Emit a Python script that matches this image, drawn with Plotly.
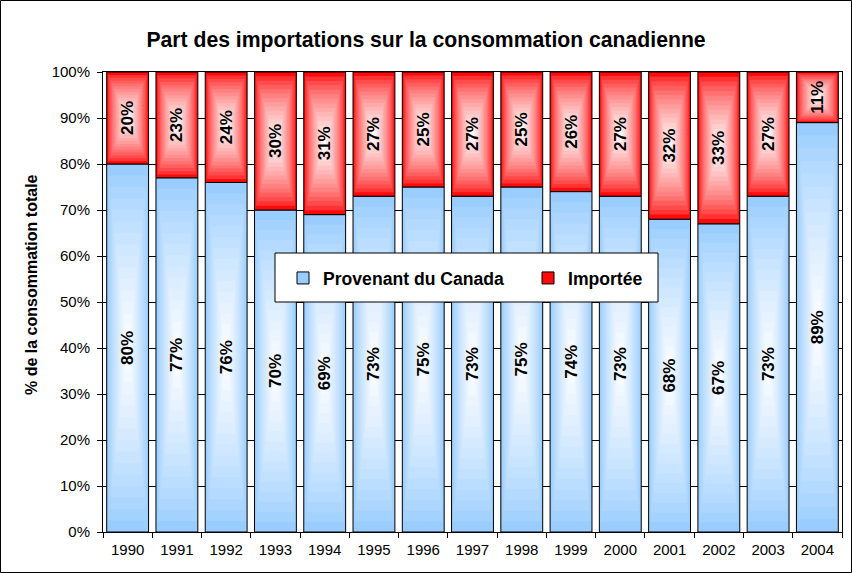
import plotly.graph_objects as go

# data
years = ['1990', '1991', '1992', '1993', '1994', '1995', '1996', '1997',
         '1998', '1999', '2000', '2001', '2002', '2003', '2004']
canada = [80, 77, 76, 70, 69, 73, 75, 73, 75, 74, 73, 68, 67, 73, 89]
importee = [20, 23, 24, 30, 31, 27, 25, 27, 25, 26, 27, 32, 33, 27, 11]

FONT = 'Liberation Sans, Arial, sans-serif'
W = 0.85      # bar width (category units)
N = 16        # gradient layers

# plot area in pixels
L, R, T, B = 103, 10, 72, 41
FW, FH = 852, 573
PW, PH = FW - L - R, FH - T - B


def lerp(c1, c2, t):
    return 'rgb(%d,%d,%d)' % tuple(round(a + (b - a) * t) for a, b in zip(c1, c2))


fig = go.Figure()

series = [
    ('Provenant du Canada', canada, [0] * len(canada), (153, 204, 255), (252, 253, 255), 0.8),
    ('Importée', importee, canada, (255, 10, 10), (255, 250, 250), 0.65),
]

# concentric rectangles -> "from center" gradient fill like the Excel original
for name, vals, base, edge, centre, p in series:
    for i in range(N):
        t = i / N
        fig.add_trace(go.Bar(
            x=years,
            y=[v * (1 - t) for v in vals],
            base=[b + v * t / 2 for b, v in zip(base, vals)],
            width=W * (1 - t),
            marker=dict(color=lerp(edge, centre, (i / (N - 1)) ** p),
                        line=dict(color='black', width=1 if i == 0 else 0)),
            name=name,
            legendgroup=name,
            showlegend=(i == 0),
            hoverinfo='skip',
        ))

# labels
for name, vals, base, edge, centre, p in series:
    fig.add_trace(go.Bar(
        x=years, y=vals, base=base, width=W,
        marker=dict(color='rgba(0,0,0,0)', line=dict(width=0)),
        text=['%d%%' % v for v in vals],
        textposition='inside', insidetextanchor='middle', textangle=-90,
        constraintext='none',
        textfont=dict(family=FONT, size=17, color='black', weight='bold'),
        showlegend=False, hoverinfo='skip',
    ))

fig.update_layout(
    width=FW, height=FH,
    margin=dict(l=L, r=R, t=T, b=B),
    barmode='overlay',
    paper_bgcolor='white', plot_bgcolor='white',
    font=dict(family=FONT, color='black'),
    title=dict(text='Part des importations sur la consommation canadienne',
               x=0.5, xref='container', xanchor='center',
               y=1 - 40 / FH, yanchor='middle',
               font=dict(family=FONT, size=21.2, color='black', weight='bold')),
    legend=dict(orientation='h', x=(528 - L) / PW, xanchor='center',
                y=(FH - B - 278) / PH, yanchor='middle',
                bgcolor='rgba(0,0,0,0)', borderwidth=0,
                font=dict(family=FONT, size=17.6, color='black', weight='bold'),
                entrywidth=200, itemclick=False),
    showlegend=True,
)

fig.update_xaxes(type='category', showgrid=False, ticks='outside', tickson='boundaries',
                 ticklen=5, tickcolor='black', showline=True, linecolor='black',
                 linewidth=1, mirror=True, ticklabelstandoff=4,
                 tickfont=dict(family=FONT, size=15, color='black'))
fig.update_yaxes(range=[0, 100], dtick=10, ticksuffix='%', showgrid=True,
                 gridcolor='black', gridwidth=1, ticks='outside', ticklen=5,
                 tickcolor='black', showline=True, linecolor='black', linewidth=1,
                 mirror=True, zeroline=False, ticklabelstandoff=4,
                 tickfont=dict(family=FONT, size=15, color='black'))

# y-axis title
fig.add_annotation(text='% de la consommation totale', textangle=-90,
                   xref='paper', yref='paper', xanchor='center', yanchor='middle',
                   x=(31 - L) / PW, y=(FH - B - 285) / PH,
                   showarrow=False,
                   font=dict(family=FONT, size=16, color='black', weight='bold'))

# legend box
fig.add_shape(type='rect', xref='paper', yref='paper', layer='above',
              x0=(275 - L) / PW, x1=(658 - L) / PW,
              y0=(FH - B - 302) / PH, y1=(FH - B - 253) / PH,
              fillcolor='white', line=dict(color='black', width=1))

# outer chart border
fig.add_shape(type='rect', xref='paper', yref='paper', layer='above',
              x0=(0.5 - L) / PW, x1=(FW - 0.5 - L) / PW,
              y0=-(B - 0.5) / PH, y1=1 + (T - 0.5) / PH,
              line=dict(color='black', width=1))

fig.write_html('out.html', config={'displayModeBar': False},
               post_script="document.body.style.margin='0';document.body.style.overflow='hidden';")
